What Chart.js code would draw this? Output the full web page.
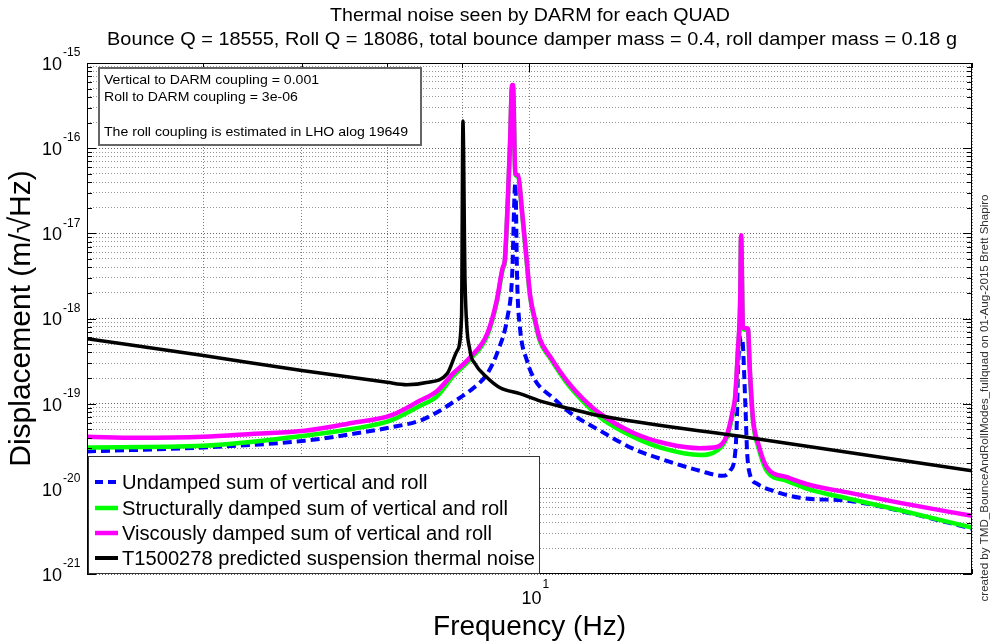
<!DOCTYPE html>
<html>
<head>
<meta charset="utf-8">
<script src="https://cdn.jsdelivr.net/npm/chart.js@4.4.1/dist/chart.umd.min.js"></script>
<style>
  html, body { margin: 0; padding: 0; background: #fff; }
</style>
</head>
<body>
<canvas id="chart" width="993" height="643"></canvas>
<script>
// values: frequency in Hz, displacement in m/rtHz
const undampedFreq = [5.0, 6.0, 7.03, 7.59, 8.04, 8.42, 8.69, 8.87, 9.11, 9.36, 9.52, 9.66, 9.73, 9.78, 9.81, 9.85, 9.96, 10.09, 10.37, 10.66, 11.17, 11.76, 12.40, 13.06, 13.54, 13.69, 13.80, 13.84, 13.86, 13.91, 13.95, 14.02, 14.06, 14.12, 14.28, 14.65, 15.28, 16.52, 17.87, 20.0];
const undampedAmp = [2.75e-20, 3.06e-20, 3.67e-20, 4.43e-20, 5.26e-20, 6.31e-20, 8.27e-20, 1.04e-19, 1.42e-19, 2.25e-19, 4.21e-19, 1.03e-18, 3.0e-18, 3.87e-17, 2.5e-18, 8.0e-19, 3.2e-19, 1.87e-19, 1.18e-19, 7.8e-20, 4.81e-20, 2.96e-20, 2.13e-20, 1.63e-20, 1.42e-20, 1.63e-20, 2.58e-20, 6.84e-20, 2.25e-19, 5.51e-19, 5.98e-19, 1.08e-19, 2.8e-20, 1.5e-20, 1.15e-20, 9.47e-21, 7.84e-21, 7.2e-21, 5.5e-21, 3.4e-21];

const structFreq = [5.0, 6.0, 7.03, 7.59, 8.04, 8.42, 8.65, 8.87, 9.11, 9.36, 9.50, 9.59, 9.62, 9.67, 9.70, 9.73, 9.745, 9.78, 9.82, 9.89, 9.95, 10.01, 10.09, 10.16, 10.33, 10.60, 10.87, 11.17, 11.76, 12.40, 13.06, 13.41, 13.62, 13.75, 13.80, 13.86, 13.91, 13.93, 13.97, 14.08, 14.12, 14.19, 14.31, 14.51, 14.95, 15.52, 16.52, 17.87, 20.0];
const structAmp = [3.06e-20, 3.2e-20, 4.21e-20, 5.08e-20, 6.31e-20, 9.4e-20, 1.22e-19, 2.1e-19, 3.3e-19, 6.3e-19, 1.55e-18, 3.8e-18, 4.6e-18, 2.8e-17, 1.1e-16, 5.2e-16, 5.2e-16, 4.9e-17, 4.6e-17, 1.55e-17, 5.2e-18, 1.78e-18, 9.0e-19, 5.5e-19, 3.4e-19, 1.75e-19, 1.07e-19, 6.9e-20, 4.1e-20, 2.9e-20, 2.5e-20, 2.8e-20, 3.98e-20, 7.6e-20, 1.1e-19, 4.0e-19, 1.55e-18, 9.0e-18, 7.5e-19, 7.3e-19, 2.5e-19, 6.4e-20, 3.1e-20, 1.6e-20, 1.25e-20, 9.8e-21, 7.6e-21, 5.6e-21, 3.5e-21];

const viscFreq = [5.0, 5.41, 6.0, 6.5, 7.03, 7.59, 8.04, 8.42, 8.65, 8.87, 9.11, 9.36, 9.50, 9.59, 9.62, 9.67, 9.70, 9.73, 9.745, 9.78, 9.82, 9.89, 9.95, 10.01, 10.09, 10.16, 10.33, 10.60, 10.87, 11.17, 11.76, 12.40, 13.06, 13.41, 13.62, 13.75, 13.80, 13.86, 13.91, 13.93, 13.97, 14.08, 14.12, 14.19, 14.31, 14.51, 14.95, 15.52, 16.52, 17.87, 20.0];
const viscAmp = [4.09e-20, 3.98e-20, 4.09e-20, 4.43e-20, 4.81e-20, 5.98e-20, 7.22e-20, 1.08e-19, 1.4e-19, 2.25e-19, 3.48e-19, 6.66e-19, 1.63e-18, 3.98e-18, 4.81e-18, 2.96e-17, 1.15e-16, 5.5e-16, 5.5e-16, 5.08e-17, 4.81e-17, 1.63e-17, 5.5e-18, 1.87e-18, 9.5e-19, 5.82e-19, 3.57e-19, 1.87e-19, 1.15e-19, 7.63e-20, 4.56e-20, 3.38e-20, 3.0e-20, 3.1e-20, 4.2e-20, 8.3e-20, 1.2e-19, 4.2e-19, 1.63e-18, 9.47e-18, 7.84e-19, 7.63e-19, 2.65e-19, 6.84e-20, 3.38e-20, 1.77e-20, 1.38e-20, 1.11e-20, 8.97e-21, 6.84e-21, 4.81e-21];

const suspFreq = [5.0, 6.0, 7.0, 8.0, 8.25, 8.51, 8.79, 8.93, 8.99, 9.01, 9.04, 9.11, 9.18, 9.36, 9.55, 9.85, 10.16, 10.66, 11.17, 14.12, 20.0];
const suspAmp = [5.8e-19, 3.67e-19, 2.45e-19, 1.78e-19, 1.67e-19, 1.77e-19, 2.25e-19, 4.2e-19, 1.03e-18, 2.08e-16, 2.6e-18, 4.2e-19, 2.96e-19, 2.02e-19, 1.54e-19, 1.31e-19, 1.08e-19, 8.7e-20, 7.2e-20, 3.98e-20, 1.63e-20];

const seriesLabels = [
  'Undamped sum of vertical and roll',
  'Structurally damped sum of vertical and roll',
  'Viscously damped sum of vertical and roll',
  'T1500278 predicted suspension thermal noise'
];
const xTicks = [5, 6, 7, 8, 9, 10, 20];
const xLabelled = [10];
const yDecades = [-21, -20, -19, -18, -17, -16, -15];

const titleLines = [
  'Thermal noise seen by DARM for each QUAD',
  'Bounce Q = 18555, Roll Q = 18086, total bounce damper mass = 0.4, roll damper mass = 0.18 g'
];
const noteLines = [
  'Vertical to DARM coupling = 0.001',
  'Roll to DARM coupling = 3e-06',
  '',
  'The roll coupling is estimated in LHO alog 19649'
];
const creditText = 'created by TMD_BounceAndRollModes_fullquad on 01-Aug-2015 Brett Shapiro';

const FONT = '"Liberation Sans", Arial, Helvetica, sans-serif';

// minor ticks 1..9 per decade
const yTicks = [];
for (let i = 0; i < yDecades.length - 1; i++) {
  for (let m = 1; m <= 9; m++) yTicks.push({ value: m * Math.pow(10, yDecades[i]), major: m === 1 });
}
yTicks.push({ value: Math.pow(10, yDecades[yDecades.length - 1]), major: true });

function pts(fs, vs) {
  return fs.map((f, i) => ({ x: f, y: vs[i] }));
}

// squeeze/stretch text to a measured width
function fitted(ctx, text, x, y, width, align) {
  const w = ctx.measureText(text).width;
  ctx.save();
  ctx.translate(x, y);
  ctx.scale(width / w, 1);
  ctx.textAlign = align;
  ctx.fillText(text, 0, 0);
  ctx.restore();
}

const legendStyles = [
  { color: '#0000ff', dash: [8, 5], width: 4 },
  { color: '#00ff00', dash: [], width: 4.5 },
  { color: '#ff00ff', dash: [], width: 4.5 },
  { color: '#000000', dash: [], width: 4 }
];

const decor = {
  id: 'decor',
  afterDraw(chart) {
    const { ctx, chartArea: a, scales: { x, y } } = chart;
    ctx.save();

    // frame
    ctx.strokeStyle = '#000';
    ctx.lineWidth = 1;
    ctx.strokeRect(Math.round(a.left) + 0.5, Math.round(a.top) + 0.5, Math.round(a.right - a.left) - 1, Math.round(a.bottom - a.top) - 1);

    // inward tick marks
    ctx.beginPath();
    yTicks.forEach(t => {
      const py = Math.round(y.getPixelForValue(t.value)) + 0.5;
      const len = t.major ? 9 : 5;
      ctx.moveTo(a.left, py); ctx.lineTo(a.left + len, py);
      ctx.moveTo(a.right, py); ctx.lineTo(a.right - len, py);
    });
    xTicks.forEach(v => {
      const px = Math.round(x.getPixelForValue(v)) + 0.5;
      const len = v === 10 ? 9 : 5;
      ctx.moveTo(px, a.bottom); ctx.lineTo(px, a.bottom - len);
      ctx.moveTo(px, a.top); ctx.lineTo(px, a.top + len);
    });
    ctx.stroke();

    // tick labels 10^n
    ctx.fillStyle = '#000';
    ctx.textBaseline = 'middle';
    yDecades.forEach(d => {
      const py = y.getPixelForValue(Math.pow(10, d));
      ctx.font = '18px ' + FONT;
      ctx.textAlign = 'right';
      ctx.fillText('10', 62, py + 2);
      ctx.font = '12px ' + FONT;
      ctx.textAlign = 'left';
      ctx.fillText(String(d), 63, py - 10);
    });
    xLabelled.forEach(v => {
      const px = x.getPixelForValue(v);
      ctx.font = '18px ' + FONT;
      ctx.textAlign = 'right';
      ctx.fillText('10', px + 12, a.bottom + 25);
      ctx.font = '12px ' + FONT;
      ctx.textAlign = 'left';
      ctx.fillText('1', px + 13, a.bottom + 11);
    });

    // title
    ctx.font = '19px ' + FONT;
    fitted(ctx, titleLines[0], 530, 16, 400, 'center');
    fitted(ctx, titleLines[1], 532, 40, 850, 'center');

    // note box, top left
    ctx.fillStyle = '#fff';
    ctx.fillRect(99, 68, 322, 77);
    ctx.strokeStyle = '#666';
    ctx.lineWidth = 2;
    ctx.strokeRect(99, 68, 322, 77);
    ctx.fillStyle = '#000';
    ctx.font = '13.5px ' + FONT;
    const nk = 304 / ctx.measureText(noteLines[3]).width;
    const noteY = [80, 97, 114, 132];
    noteLines.forEach((t, i) => {
      if (!t) return;
      fitted(ctx, t, 104, noteY[i], ctx.measureText(t).width * nk, 'left');
    });

    // legend box, bottom left
    ctx.fillStyle = '#fff';
    ctx.fillRect(89, 456, 451, 118);
    ctx.strokeStyle = '#333';
    ctx.lineWidth = 1;
    ctx.strokeRect(88.5, 456.5, 451, 117);
    ctx.font = '20px ' + FONT;
    const lk = 413 / ctx.measureText(seriesLabels[3]).width;
    const rowY = [482, 508, 533, 558];
    seriesLabels.forEach((t, i) => {
      const s = legendStyles[i];
      ctx.strokeStyle = s.color;
      ctx.lineWidth = s.width;
      ctx.setLineDash(s.dash);
      ctx.beginPath();
      ctx.moveTo(95, rowY[i]);
      ctx.lineTo(118, rowY[i]);
      ctx.stroke();
      ctx.setLineDash([]);
      ctx.fillStyle = '#000';
      fitted(ctx, t, 122, rowY[i] + 1, ctx.measureText(t).width * lk, 'left');
    });

    // credit, rotated on the right
    ctx.fillStyle = '#333';
    ctx.font = '11px ' + FONT;
    ctx.translate(985, 398);
    ctx.rotate(-Math.PI / 2);
    fitted(ctx, creditText, 0, 0, 407, 'center');

    ctx.restore();
  }
};

new Chart(document.getElementById('chart'), {
  type: 'line',
  data: {
    datasets: [
      { label: seriesLabels[3], data: pts(suspFreq, suspAmp), borderColor: '#000000', borderWidth: 3.5 },
      { label: seriesLabels[2], data: pts(viscFreq, viscAmp), borderColor: '#ff00ff', borderWidth: 4.5 },
      { label: seriesLabels[1], data: pts(structFreq, structAmp), borderColor: '#00ff00', borderWidth: 4.5 },
      { label: seriesLabels[0], data: pts(undampedFreq, undampedAmp), borderColor: '#0000ff', borderWidth: 4, borderDash: [9, 5] }
    ]
  },
  options: {
    responsive: false,
    devicePixelRatio: 1,
    animation: false,
    layout: { padding: { left: 0, right: 21, top: 63, bottom: 0 } },
    elements: { point: { radius: 0 }, line: { cubicInterpolationMode: 'monotone', fill: false } },
    plugins: { legend: { display: false }, tooltip: { enabled: false }, title: { display: false } },
    scales: {
      x: {
        type: 'logarithmic',
        min: 5,
        max: 20,
        afterBuildTicks: s => { s.ticks = xTicks.map(v => ({ value: v, major: v === 10 })); },
        afterFit: s => { s.height = 69; },
        ticks: { display: false },
        grid: { color: 'rgba(0,0,0,0.5)', lineWidth: 1, drawTicks: false },
        border: { display: false, dash: [1, 2] },
        title: { display: true, text: 'Frequency (Hz)', color: '#000', font: { family: FONT, size: 28, lineHeight: 1.1 }, padding: 0 }
      },
      y: {
        type: 'logarithmic',
        min: 1e-21,
        max: 1e-15,
        afterBuildTicks: s => { s.ticks = yTicks.map(t => ({ value: t.value, major: t.major })); },
        afterFit: s => { s.width = 87; },
        ticks: { display: false },
        grid: {
          color: c => (c.tick && c.tick.major ? 'rgba(0,0,0,0.6)' : 'rgba(0,0,0,0.42)'),
          lineWidth: 1,
          drawTicks: false
        },
        border: { display: false, dash: [1, 2] },
        title: { display: true, text: 'Displacement (m/\u221AHz)', color: '#000', font: { family: FONT, size: 30, lineHeight: 1.1 }, padding: { top: 5, bottom: 0 } }
      }
    }
  },
  plugins: [decor]
});
</script>
</body>
</html>
